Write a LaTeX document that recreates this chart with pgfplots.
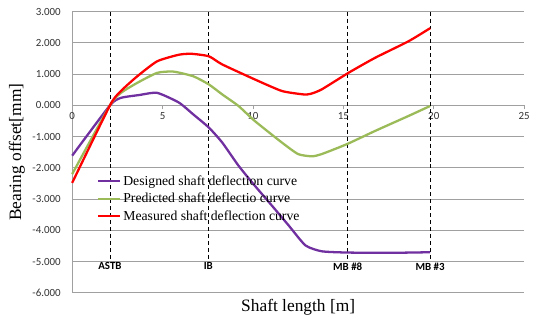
\documentclass[border=0pt]{standalone}
\usepackage{fontspec}
\setmainfont{Liberation Serif}
\newfontfamily\calibri{Carlito}
\usepackage{pgfplots}
\pgfplotsset{compat=1.18}
\definecolor{cpurple}{HTML}{7030A0}
\definecolor{cgreen}{HTML}{9BBB59}
\definecolor{cred}{HTML}{FF0000}
\definecolor{cgrid}{HTML}{A0A0A0}
\begin{document}
\begin{tikzpicture}
\begin{axis}[
  scale only axis,
  width=455.3pt, height=283.3pt,
  xmin=0, xmax=25, ymin=-6, ymax=3,
  axis x line=middle, axis y line=left,
  hide obscured x ticks=false,
  axis line style={-, draw=cgrid, line width=0.8pt},
  xtick={0,5,10,15,20,25},
  ytick={-6,-5,-4,-3,-2,-1,0,1,2,3},
  ymajorgrids,
  grid style={cgrid, line width=0.8pt},
  tick align=outside,
  major tick length=4pt,
  xtick style={draw=cgrid, line width=0.8pt},
  ytick style={draw=none},
  /pgf/number format/assume math mode=true,
  yticklabel style={/pgf/number format/.cd, fixed, fixed zerofill, precision=3, /tikz/.cd, font=\calibri\fontsize{11}{12}\selectfont, text=black!80, xshift=-4pt},
  xticklabel style={font=\calibri\fontsize{11}{12}\selectfont, text=black!80},
  xlabel={Shaft length [m]},
  ylabel={Bearing offset[mm]},
  xlabel style={font=\fontsize{17.5}{20}\selectfont, at={(rel axis cs:0.5,0)}, anchor=north, yshift=-3pt},
  ylabel style={font=\fontsize{17.5}{20}\selectfont, at={(rel axis cs:0,0.5)}, anchor=south, yshift=44pt},
  legend style={at={(rel axis cs:0.055,0.425)}, anchor=north west, draw=none, fill=none,
    font=\fontsize{13.8}{16}\selectfont, row sep=2.5pt, inner sep=0pt},
  legend cell align=left,
  legend image code/.code={\draw[#1, line width=2.3pt] (0pt,0pt) -- (22pt,0pt);},
  clip=false,
]
% dashed reference lines
\addplot[black, line width=0.6pt, dash pattern=on 4pt off 3pt, forget plot] coordinates {(2.09,3) (2.09,-5)};
\addplot[black, line width=0.6pt, dash pattern=on 4pt off 3pt, forget plot] coordinates {(7.53,3) (7.53,-5)};
\addplot[black, line width=0.6pt, dash pattern=on 4pt off 3pt, forget plot] coordinates {(15.24,3) (15.24,-5)};
\addplot[black, line width=0.6pt, dash pattern=on 4pt off 3pt, forget plot] coordinates {(19.8,3) (19.8,-5)};

\addplot[cpurple, line width=2.3pt, smooth, tension=0.35] coordinates {
(0,-1.61) (2.09,0) (2.7,0.24) (3.7,0.33) (4.7,0.40) (5.9,0.09) (6.7,-0.29) (7.56,-0.71) (8.3,-1.19) (9.2,-1.93) (10.1,-2.57) (11.05,-3.21) (11.97,-3.84) (12.9,-4.48) (13.8,-4.67) (15.2,-4.71) (17.5,-4.72) (19.8,-4.70)};
\addlegendentry{Designed shaft deflection curve}

\addplot[cgreen, line width=2.3pt, smooth, tension=0.35] coordinates {
(0,-2.2) (2.09,0) (2.7,0.40) (3.6,0.72) (4.7,1.04) (5.6,1.08) (6.7,0.93) (7.56,0.67) (8.3,0.35) (9.2,-0.02) (10.1,-0.5) (11.6,-1.19) (12.5,-1.56) (13.26,-1.63) (13.8,-1.56) (15.2,-1.24) (16.75,-0.82) (18.6,-0.34) (19.8,-0.02)};
\addlegendentry{Predicted shaft deflectio curve}

\addplot[cred, line width=2.3pt, smooth, tension=0.35] coordinates {
(0,-2.48) (2.09,0) (2.7,0.46) (3.6,0.93) (4.7,1.41) (5.9,1.62) (6.6,1.65) (7.56,1.57) (8.3,1.31) (10.1,0.83) (11.6,0.46) (12.8,0.35) (13.2,0.37) (13.8,0.51) (15.28,1.04) (16.75,1.52) (18.6,2.05) (19.8,2.47)};
\addlegendentry{Measured shaft deflection curve}

\node[font=\calibri\bfseries\fontsize{11}{12}\selectfont, anchor=north, inner sep=1pt] at (axis cs:2.09,-5) {ASTB};
\node[font=\calibri\bfseries\fontsize{11}{12}\selectfont, anchor=north, inner sep=1pt] at (axis cs:7.53,-5) {IB};
\node[font=\calibri\bfseries\fontsize{11}{12}\selectfont, anchor=north, inner sep=1pt] at (axis cs:15.24,-5) {MB \#8};
\node[font=\calibri\bfseries\fontsize{11}{12}\selectfont, anchor=north, inner sep=1pt] at (axis cs:19.8,-5) {MB \#3};
\end{axis}
\path (current axis.south west) ++(-72.7pt,-25pt) coordinate (bbA);
\path (current axis.north east) ++(5pt,11.7pt) coordinate (bbB);
\path (bbA) rectangle (bbB);
\end{tikzpicture}
\end{document}
